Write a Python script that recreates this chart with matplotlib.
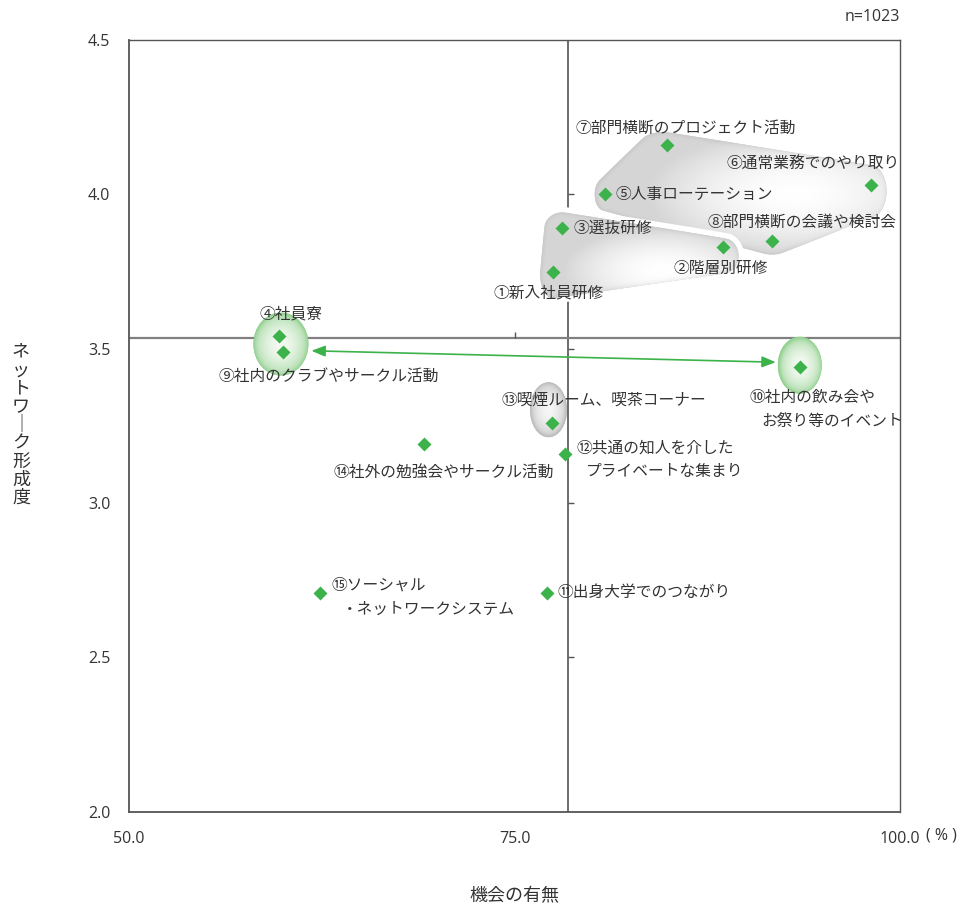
"""Scatter map: opportunity vs. network-forming score per communication channel."""

import numpy as np
import matplotlib

matplotlib.use("Agg")
import matplotlib.pyplot as plt
from matplotlib.colors import to_rgb
from matplotlib.markers import TICKRIGHT, TICKUP
from matplotlib.patches import Ellipse, Polygon

# ---- data -----------------------------------------------------------------
labels = [
    "①新入社員研修",
    "②階層別研修",
    "③選抜研修",
    "④社員寮",
    "⑤人事ローテーション",
    "⑥通常業務でのやり取り",
    "⑦部門横断のプロジェクト活動",
    "⑧部門横断の会議や検討会",
    "⑨社内のクラブやサークル活動",
    "⑩社内の飲み会や\nお祭り等のイベント",
    "⑪出身大学でのつながり",
    "⑫共通の知人を介した\nプライベートな集まり",
    "⑬喫煙ルーム、喫茶コーナー",
    "⑭社外の勉強会やサークル活動",
    "⑮ソーシャル\n・ネットワークシステム",
]
opportunity = [77.5, 88.5, 78.1, 59.7, 80.9, 98.1, 84.9, 91.7,
               60.0, 93.5, 77.1, 78.3, 77.4, 69.1, 62.4]
network = [3.75, 3.83, 3.89, 3.54, 4.00, 4.03, 4.16, 3.85,
           3.49, 3.44, 2.71, 3.16, 3.26, 3.19, 2.71]

gray_groups = [[4, 5, 6, 7], [0, 1, 2]]
green_groups = [[3, 8], [9]]
gray_single = [12]
arrow_pair = (8, 9)

x_ticks = [50, 75, 100]
x_ticklabels = ["50.0", "75.0", "100.0"]
y_ticks = [2.0, 2.5, 3.0, 3.5, 4.0, 4.5]
y_ticklabels = ["2.0", "2.5", "3.0", "3.5", "4.0", "4.5"]
unit_text = "( % )"
sample_note = "n=1023"
x_title = "機会の有無"
y_title = "ネットワ｜ク形成度"

# ---- layout (pixels at dpi 100) -------------------------------------------
# label anchor offsets: (dx, dy downwards, indent of second line)
label_offsets = [
    (-60, 21, 0), (-49, 22, 0), (11, 0, 0), (-19, -22, 0), (10, 0, 0),
    (-144, -22, 0), (-92, -17, 0), (-65, -18, 0), (-65, 25, 0), (-50, 30, 12),
    (11, 0, 0), (11, -6, 10), (-50, -23, 0), (-90, 29, 0), (11, -7, 11),
]
line_gap = 24
# padding ellipse around each grouped marker: (rx, ry, shift x, shift down)
point_pads = {
    0: (13, 24, 0, 3), 1: (16, 18, 0, 9), 2: (18, 16, 0, 0),
    4: (11, 17, 0, 0), 5: (16, 26, 0, 6), 6: (24, 13, -4, 0), 7: (22, 14, 0, 0),
}
blob_focus = [(65, -2), (50, -22)]         # highlight offset from centroid
green_sizes = [(55, 63), (44, 57)]
green_shift = [(0, 0), (0, 2)]
single_size = (37, 55)
single_shift = (-3, 13)

JP = ["Noto Sans CJK JP", "DejaVu Sans"]
NUM = ["Open Sans", "DejaVu Sans"]
TXT = "#333333"
GREEN = "#3cb34a"

W, H = 964, 906
fig = plt.figure(figsize=(W / 100, H / 100), dpi=100, facecolor="white")
ax = fig.add_axes([129 / W, (H - 811.7) / H, 771 / W, 771.7 / H])
ax.set_xlim(50, 100)
ax.set_ylim(2.0, 4.5)
ax.set_autoscale_on(False)

x = np.asarray(opportunity)
y = np.asarray(network)
pts_px = ax.transData.transform(np.c_[x, y])
inv = ax.transData.inverted()


def convex_hull(p):
    p = sorted(map(tuple, p))

    def cross(o, a, b):
        return (a[0] - o[0]) * (b[1] - o[1]) - (a[1] - o[1]) * (b[0] - o[0])

    lower, upper = [], []
    for q in p:
        while len(lower) >= 2 and cross(lower[-2], lower[-1], q) <= 0:
            lower.pop()
        lower.append(q)
    for q in reversed(p):
        while len(upper) >= 2 and cross(upper[-2], upper[-1], q) <= 0:
            upper.pop()
        upper.append(q)
    return np.array(lower[:-1] + upper[:-1])


def chaikin(poly, n=3):
    for _ in range(n):
        nxt = np.roll(poly, -1, axis=0)
        poly = np.stack([0.75 * poly + 0.25 * nxt, 0.25 * poly + 0.75 * nxt], axis=1)
        poly = poly.reshape(-1, 2)
    return poly


def edge_distance(px, py, poly):
    """Distance of grid points to the outline of a closed polygon."""
    a = poly
    b = np.roll(poly, -1, axis=0)
    p = np.c_[px.ravel(), py.ravel()][:, None, :]
    ab = (b - a)[None]
    ap = p - a[None]
    t = np.clip((ap * ab).sum(-1) / np.maximum((ab * ab).sum(-1), 1e-9), 0, 1)
    d = np.hypot(*(ap - t[..., None] * ab).transpose(2, 0, 1)).min(axis=1)
    return d.reshape(px.shape)


def soft_fill(patch, inner, outer, focus, base, rim_w, edge_w, zorder):
    """Fill a patch with a soft highlight fading to a grey rim, clipped to it."""
    patch.set_facecolor(outer)
    patch.set_zorder(zorder)
    ax.add_patch(patch)
    poly = patch.get_path().transformed(patch.get_transform()).to_polygons()[0]
    x0, y0 = poly.min(axis=0)
    x1, y1 = poly.max(axis=0)
    gx, gy = np.meshgrid(np.linspace(x0, x1, int(x1 - x0) + 2),
                         np.linspace(y0, y1, int(y1 - y0) + 2))
    hw, hh = (x1 - x0) / 2, (y1 - y0) / 2
    r = np.clip(np.hypot((gx - focus[0]) / hw, (gy - focus[1]) / hh), 0, 1)
    rim = np.clip(1 - edge_distance(gx, gy, poly) / edge_w, 0, 1) ** 2
    t = np.clip(base * r ** 1.8 + rim_w * rim, 0, 1)
    c_in, c_out = np.array(to_rgb(inner)), np.array(to_rgb(outer))
    rgb = c_in * (1 - t[..., None]) + c_out * t[..., None]
    (dx0, dy0), (dx1, dy1) = inv.transform([(x0, y0), (x1, y1)])
    im = ax.imshow(rgb, extent=(dx0, dx1, dy0, dy1), origin="lower",
                   aspect="auto", interpolation="bilinear", zorder=zorder + 0.01)
    im.set_clip_path(patch)


# gray blobs around related channels; the later one gets a white gap ring
ang = np.linspace(0, 2 * np.pi, 24, endpoint=False)
for k, (grp, (fx, fy)) in enumerate(zip(gray_groups, blob_focus)):
    cloud = []
    for i in grp:
        rx, ry, sx, sy = point_pads[i]
        c = pts_px[i] + (sx, -sy)
        cloud.append(c + np.c_[rx * np.cos(ang), ry * np.sin(ang)])
    outline = inv.transform(chaikin(convex_hull(np.vstack(cloud)), 4))
    z = 3 + 0.2 * k
    if k:
        ax.add_patch(Polygon(outline, closed=True, facecolor="none",
                             edgecolor="white", lw=8, zorder=z - 0.05))
    centroid = pts_px[grp].mean(axis=0)
    soft_fill(Polygon(outline, closed=True, edgecolor="none"), "#ffffff", "#c6c6c6",
              (centroid[0] + fx, centroid[1] + fy), 0.72, 0.2, 6, z)

# green ovals
px_x = ax.transData.transform((1, 0))[0] - ax.transData.transform((0, 0))[0]
px_y = ax.transData.transform((0, 1))[1] - ax.transData.transform((0, 0))[1]
green_centers = []
for grp, (ew, eh), (sx, sy) in zip(green_groups, green_sizes, green_shift):
    c = pts_px[grp].mean(axis=0) + (sx, sy)
    green_centers.append((c, ew))
    soft_fill(Ellipse(inv.transform(c), ew / px_x, eh / px_y, edgecolor="none"),
              "#f4faf2", "#95d193", c, 0.75, 0.3, 6, 3.5)

# gray oval
c = pts_px[gray_single].mean(axis=0) + single_shift
soft_fill(Ellipse(inv.transform(c), single_size[0] / px_x, single_size[1] / px_y,
                  edgecolor="none"),
          "#f7f7f7", "#bdbdbd", c, 0.75, 0.3, 5, 3.5)

# average cross lines
x_mean, y_mean = x.mean(), y.mean()
ax.axvline(x_mean, color="#444444", lw=1.1, zorder=2)
ax.axhline(y_mean, color="#808080", lw=1.6, zorder=2)
ax.plot([75], [y_mean], marker=TICKUP, ms=4.5, mew=1.0, color="#555555", zorder=2)
ax.plot([x_mean] * 4, [2.5, 3.0, 3.5, 4.0], ls="none", marker=TICKRIGHT,
        ms=4, mew=1.0, color="#555555", zorder=2)

# arrow linking the two green ovals
(cl, wl), (cr, wr) = green_centers
a, b = arrow_pair
left_tip = inv.transform((cl[0] + wl / 2 + 3, pts_px[a][1] + 1))
right_tip = inv.transform((cr[0] - wr / 2 - 2, pts_px[b][1] + 5))
ax.annotate("", xy=right_tip, xytext=left_tip, zorder=4,
            arrowprops=dict(arrowstyle="<|-|>,head_length=0.55,head_width=0.22",
                            mutation_scale=15, color=GREEN, lw=1.2,
                            shrinkA=0, shrinkB=0))

# markers
ax.plot(x, y, ls="none", marker="D", ms=7, color=GREEN, mec="none", zorder=5)

# labels
for xi, yi, text, (dx, dy, ind) in zip(x, y, labels, label_offsets):
    for i, line in enumerate(text.split("\n")):
        ax.annotate(line, xy=(xi, yi), xytext=(dx + (ind if i else 0), -(dy + line_gap * i)),
                    textcoords="offset pixels", ha="left", va="center",
                    fontsize=11.3, family=JP, color=TXT, zorder=6)

# axes styling
for side in ["left", "bottom"]:
    ax.spines[side].set_color("#555555")
    ax.spines[side].set_linewidth(1.3)
for side in ["top", "right"]:
    ax.spines[side].set_color("#555555")
    ax.spines[side].set_linewidth(1.0)
ax.set_xticks(x_ticks)
ax.set_xticklabels(x_ticklabels, family=NUM, fontsize=11.5, color=TXT)
ax.set_yticks(y_ticks)
ax.set_yticklabels(y_ticklabels, family=NUM, fontsize=11.5, color=TXT)
ax.tick_params(axis="x", length=0, pad=14)
ax.tick_params(axis="y", length=0, pad=13.5)

ax.annotate(unit_text, xy=(1, 0), xycoords="axes fraction", xytext=(26, -24),
            textcoords="offset pixels", ha="left", va="center",
            fontsize=11.5, family=NUM, color=TXT)
fig.text(900 / W, 1 - 17 / H, sample_note, ha="right", va="center",
         fontsize=11.5, family=NUM, color=TXT)
fig.text(514 / W, 1 - 896 / H, x_title, ha="center", va="center",
         fontsize=13, family=JP, color=TXT)
for i, ch in enumerate(y_title):
    fig.text(21 / W, 1 - (352 + 18.25 * i) / H, ch, ha="center", va="center",
             fontsize=13, family=JP, color=TXT)

fig.savefig("out.png", dpi=100, facecolor="white")
